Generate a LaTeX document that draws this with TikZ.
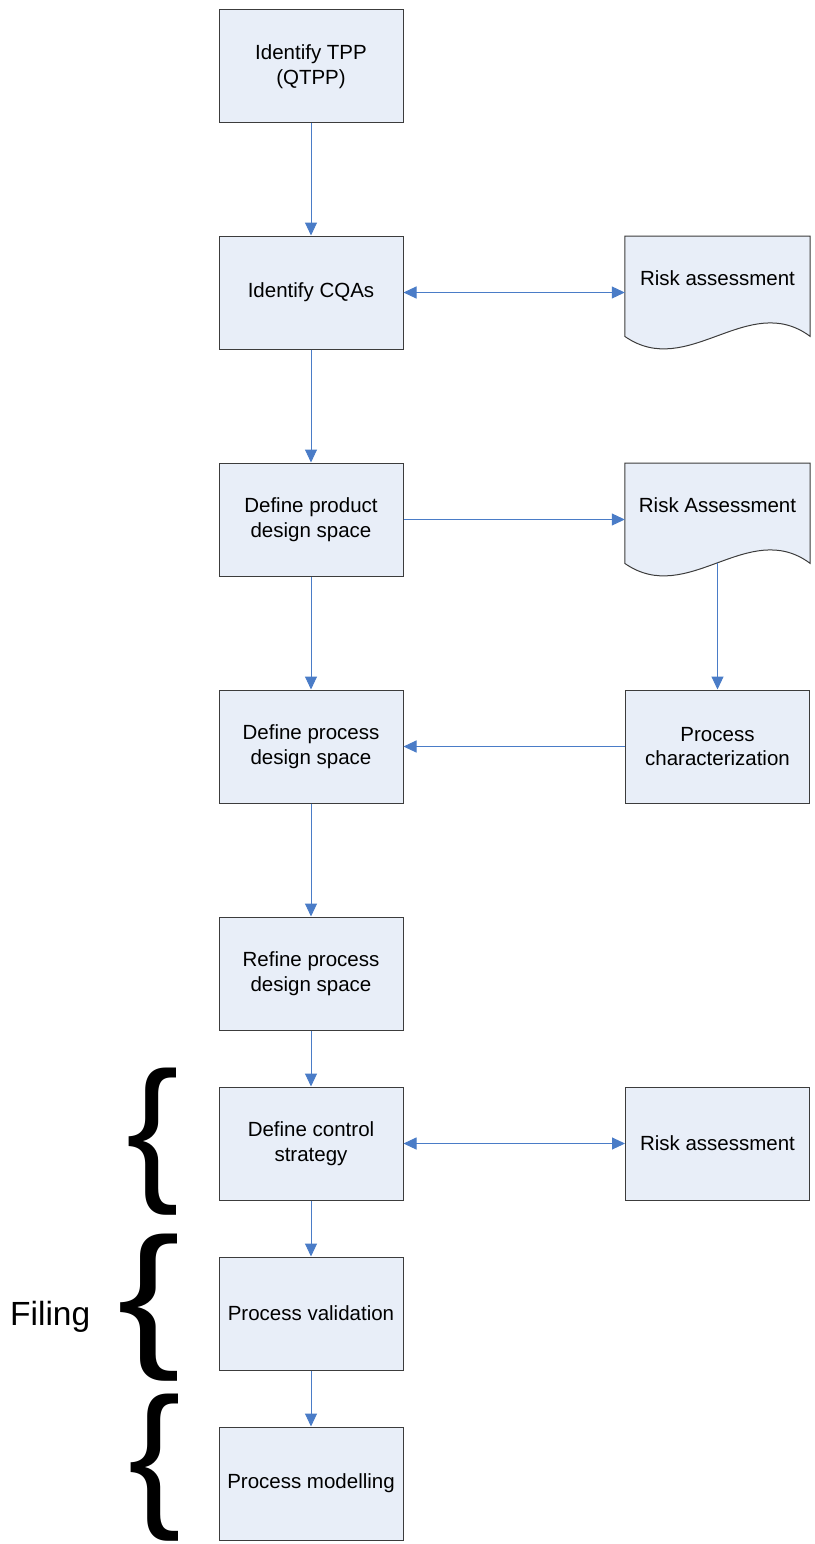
\documentclass[tikz,border=0pt]{standalone}
\usepackage{fontspec}
\setmainfont{Liberation Sans}
\usetikzlibrary{arrows.meta,calc,backgrounds}
\definecolor{boxfill}{HTML}{E8EEF8}
\definecolor{flowblue}{HTML}{4A7CC7}
\definecolor{edge}{HTML}{3C3C3C}

\begin{document}
\begin{tikzpicture}[x=1pt,y=1pt,>={Triangle[length=13pt,width=12pt]},
  procbox/.style={draw=edge,fill=boxfill,line width=1pt,minimum width=184pt,minimum height=113pt,
    align=center,inner sep=0pt,font=\fontsize{20.5}{24.5}\selectfont},
  docpage/.style={anchor=north,minimum width=185pt,inner sep=0pt,text height=49pt,text depth=51pt,
    font=\fontsize{20.5}{24.5}\selectfont},
  docline/.style={draw=edge,fill=boxfill,line width=1pt},
  flow/.style={draw=flowblue,line width=1pt},
  bracemark/.style={inner sep=0pt,anchor=base west,font=\fontsize{158}{158}\selectfont}]
\useasboundingbox (0,0) rectangle (814,-1544);

% main column
\node[procbox] (tpp) at (311,-66.5) {Identify TPP\\(QTPP)};
\node[procbox] (cqa) at (311,-292.5) {Identify CQAs};
\node[procbox] (pds) at (311,-519.5) {Define product\\design space};
\node[procbox] (prds) at (311,-746.5) {Define process\\design space};
\node[procbox] (rpds) at (311,-973.5) {Refine process\\design space};
\node[procbox] (ctrl) at (311,-1143.5) {Define control\\strategy};
\node[procbox] (valid) at (311,-1313.5) {Process validation};
\node[procbox] (model) at (311,-1483.5) {Process modelling};

% side column
\node[docpage] (ra1) at (717.5,-236) {Risk assessment};
\node[docpage] (ra2) at (717.5,-463) {Risk Assessment};
\node[procbox] (pchar) at (717.5,-746.5) {Process\\characterization};
\node[procbox] (ra3) at (717.5,-1143.5) {Risk assessment};

\begin{scope}[on background layer]
\foreach \d in {ra1,ra2}{
  \draw[docline] (\d.north west) -- (\d.north east) -- (\d.south east)
    .. controls ($(\d.south east)+(-62,46)$) and ($(\d.south west)+(63,-44)$) .. (\d.south west) -- cycle;
}
\end{scope}

% connectors
\foreach \a/\b in {tpp/cqa,cqa/pds,pds/prds,prds/rpds,rpds/ctrl,ctrl/valid,valid/model}{
  \draw[flow,->] (\a) -- (\b);
}
\draw[flow,<->] (cqa) -- (cqa -| ra1.west);
\draw[flow,->] (pds) -- (pds -| ra2.west);
\draw[flow,->] (ra2.south) -- (pchar);
\draw[flow,->] (pchar) -- (prds);
\draw[flow,<->] (ctrl) -- (ra3);

% braces and label
\node[bracemark] (brace1) at (126,-1182) {\{};
\node[bracemark,xscale=1.2] (brace2) at (117,-1348) {\{};
\node[bracemark] (brace3) at (128,-1508) {\{};
\node[inner sep=0pt,anchor=base west,font=\fontsize{33.5}{40}\selectfont] (filing) at (10,-1325) {Filing};
\end{tikzpicture}
\end{document}
